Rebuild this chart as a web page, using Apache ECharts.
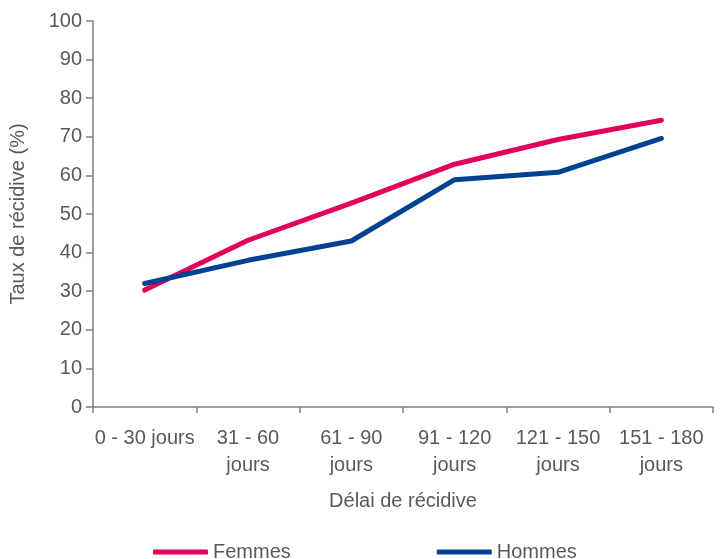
<!DOCTYPE html>
<html>
<head>
<meta charset="utf-8">
<script src="https://cdn.jsdelivr.net/npm/echarts@6/dist/echarts.min.js"></script>
<style>
  html, body { margin: 0; padding: 0; background: #ffffff; }
  #chart { width: 720px; height: 559px; }
</style>
</head>
<body>
<div id="chart"></div>
<script>
// Délais de récidive (catégories de l'axe horizontal)
const categories = ['0 - 30 jours', '31 - 60\njours', '61 - 90\njours', '91 - 120\njours', '121 - 150\njours', '151 - 180\njours'];
// Taux de récidive (%) par sexe
const femmes = [30.3, 43.2, 52.8, 62.9, 69.3, 74.3];
const hommes = [32.0, 38.0, 43.0, 58.9, 60.8, 69.6];

const textColor = '#595959';
const axisColor = '#7f7f7f';
const fontFamily = 'Liberation Sans, Arial, sans-serif';
const fontSize = 20;

const chart = echarts.init(document.getElementById('chart'), null, { renderer: 'canvas' });
chart.setOption({
  animation: false,
  backgroundColor: '#ffffff',
  textStyle: { fontFamily: fontFamily, color: textColor },
  grid: { left: 93, right: 7, top: 21, bottom: 152, containLabel: false, outerBoundsMode: 'none' },
  legend: {
    left: 148,
    top: 537,
    itemGap: 146,
    itemWidth: 55,
    itemHeight: 5,
    icon: 'roundRect',
    itemStyle: { borderWidth: 0 },
    textStyle: { fontSize: fontSize, color: textColor, fontFamily: fontFamily },
    data: ['Femmes', 'Hommes']
  },
  xAxis: {
    type: 'category',
    data: categories,
    boundaryGap: true,
    name: 'Délai de récidive',
    nameLocation: 'middle',
    nameGap: 84,
    nameTextStyle: { fontSize: fontSize, color: textColor, fontFamily: fontFamily },
    axisLine: { show: true, lineStyle: { color: axisColor, width: 1.5 } },
    axisTick: { show: true, alignWithLabel: false, length: 6, lineStyle: { color: axisColor, width: 1.5 } },
    axisLabel: { interval: 0, fontSize: fontSize, color: textColor, margin: 18, lineHeight: 27, fontFamily: fontFamily },
    splitLine: { show: false }
  },
  yAxis: {
    type: 'value',
    min: 0,
    max: 100,
    interval: 10,
    name: 'Taux de récidive (%)',
    nameLocation: 'middle',
    nameRotate: 90,
    nameGap: 65,
    nameTextStyle: { fontSize: fontSize, color: textColor, fontFamily: fontFamily },
    axisLine: { show: true, lineStyle: { color: axisColor, width: 1.5 } },
    axisTick: { show: true, inside: false, length: 7, lineStyle: { color: axisColor, width: 1.5 } },
    axisLabel: { fontSize: fontSize, color: textColor, margin: 11, fontFamily: fontFamily },
    splitLine: { show: false }
  },
  series: [
    {
      name: 'Femmes',
      type: 'line',
      data: femmes,
      showSymbol: false,
      symbol: 'none',
      color: '#e3005b',
      lineStyle: { width: 5, color: '#e3005b', cap: 'round', join: 'round' }
    },
    {
      name: 'Hommes',
      type: 'line',
      data: hommes,
      showSymbol: false,
      symbol: 'none',
      color: '#004292',
      lineStyle: { width: 5, color: '#004292', cap: 'round', join: 'round' }
    }
  ]
});
</script>
</body>
</html>
